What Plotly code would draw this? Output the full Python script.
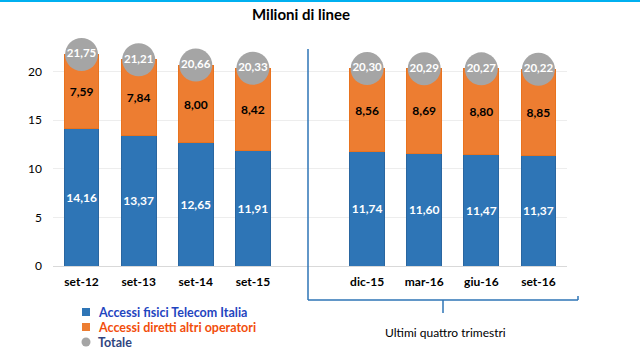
import plotly.graph_objects as go

categories = ["set-12", "set-13", "set-14", "set-15", "dic-15", "mar-16", "giu-16", "set-16"]
slot_index = [0, 1, 2, 3, 5, 6, 7, 8]   # slot 4 is left empty as a separator
telecom = [14.16, 13.37, 12.65, 11.91, 11.74, 11.60, 11.47, 11.37]
altri = [7.59, 7.84, 8.00, 8.42, 8.56, 8.69, 8.80, 8.85]
totale = [21.75, 21.21, 20.66, 20.33, 20.30, 20.29, 20.27, 20.22]
y_ticks = [0, 5, 10, 15, 20]

BLUE = "#2E75B6"
ORANGE = "#ED7D31"
GREY = "#A5A5A5"
FONT = "Lato"

def fmt(v):
    return f"{v:.2f}".replace(".", ",")

W, H = 640, 352
L, R, T, B = 53, 73, 40, 86
pw, ph = W - L - R, H - T - B

def px(x):
    return (x - L) / pw

def py(y):
    return (H - B - y) / ph

fig = go.Figure()
fig.add_trace(go.Bar(
    x=slot_index, y=telecom, name="Accessi fisici Telecom Italia",
    marker=dict(color=BLUE, line=dict(color="#2A66A0", width=1)),
    text=[fmt(v) for v in telecom], textposition="inside", insidetextanchor="middle", textangle=0,
    constraintext="none",
    textfont=dict(family=FONT, size=12, color="white", weight="bold"),
    width=0.61, showlegend=False,
))
fig.add_trace(go.Bar(
    x=slot_index, y=altri, name="Accessi diretti altri operatori",
    marker=dict(color=ORANGE, line=dict(color="#E8731F", width=1)),
    text=[fmt(v) for v in altri], textposition="inside", insidetextanchor="middle", textangle=0,
    constraintext="none",
    textfont=dict(family=FONT, size=12, color="black", weight="bold"),
    width=0.61, showlegend=False,
))
fig.add_trace(go.Scatter(
    x=slot_index, y=totale, name="Totale", mode="markers+text",
    marker=dict(color=GREY, size=33, line=dict(width=0)),
    text=[fmt(v) for v in totale], textposition="middle center",
    textfont=dict(family=FONT, size=11.5, color="white", weight="bold"),
    cliponaxis=False, showlegend=False,
))

shapes = []
# top cyan line
shapes.append(dict(type="line", xref="paper", yref="paper", x0=px(0), x1=px(W), y0=py(1), y1=py(1),
                   line=dict(color="#00B0F0", width=2)))
# bracket
bc = "#2E75B6"
shapes.append(dict(type="line", xref="paper", yref="paper", x0=px(308), x1=px(308), y0=py(49), y1=py(300), line=dict(color=bc, width=1.5)))
shapes.append(dict(type="line", xref="paper", yref="paper", x0=px(308), x1=px(578), y0=py(300), y1=py(300), line=dict(color=bc, width=1.5)))
shapes.append(dict(type="line", xref="paper", yref="paper", x0=px(578), x1=px(578), y0=py(296), y1=py(300), line=dict(color=bc, width=1.5)))
shapes.append(dict(type="line", xref="paper", yref="paper", x0=px(443), x1=px(443), y0=py(300), y1=py(313), line=dict(color=bc, width=1.5)))
# legend symbols
shapes.append(dict(type="rect", xref="paper", yref="paper", x0=px(82), x1=px(90), y0=py(316), y1=py(308), fillcolor=BLUE, line=dict(width=0)))
shapes.append(dict(type="rect", xref="paper", yref="paper", x0=px(82), x1=px(90), y0=py(331), y1=py(323), fillcolor=ORANGE, line=dict(width=0)))
shapes.append(dict(type="circle", xref="paper", yref="paper", x0=px(81.5), x1=px(90.5), y0=py(346.5), y1=py(337.5), fillcolor=GREY, line=dict(width=0)))

annotations = [
    dict(text="<b>Milioni di linee</b>", xref="paper", yref="paper", x=px(301), y=py(14),
         showarrow=False, xanchor="center", yanchor="middle", font=dict(family=FONT, size=15, color="black")),
    dict(text="Ultimi quattro trimestri", xref="paper", yref="paper", x=px(445), y=py(332),
         showarrow=False, xanchor="center", yanchor="middle", font=dict(family=FONT, size=12, color="black")),
]
legend_items = [("Accessi fisici Telecom Italia", "#1F45C0", 312),
                ("Accessi diretti altri operatori", "#F24E0C", 327),
                ("Totale", "#2F4580", 342)]
for txt, col, yy in legend_items:
    annotations.append(dict(text=f"<b>{txt}</b>", xref="paper", yref="paper", x=px(96), y=py(yy),
                            showarrow=False, xanchor="left", yanchor="middle",
                            font=dict(family=FONT, size=12.5, color=col)))

fig.update_layout(
    width=W, height=H, barmode="stack", bargap=0.39,
    margin=dict(l=L, r=R, t=T, b=B),
    paper_bgcolor="white", plot_bgcolor="white",
    font=dict(family=FONT, size=12, color="black"),
    xaxis=dict(range=[-0.5, 8.5], tickvals=slot_index, ticktext=[f"<b>{c}</b>" for c in categories],
               showgrid=False, zeroline=False, showline=False, ticks="", ticklabelstandoff=7,
               tickfont=dict(family=FONT, size=12, color="black")),
    yaxis=dict(range=[0, ph / 9.725], tickvals=y_ticks, showgrid=True, gridcolor="#EDEDED", gridwidth=1,
               zeroline=True, zerolinecolor="#D9D9D9", zerolinewidth=1, ticks="", ticklabelstandoff=10,
               tickfont=dict(family=FONT, size=12, color="black")),
    shapes=shapes, annotations=annotations,
)
fig.write_html("out.html")
